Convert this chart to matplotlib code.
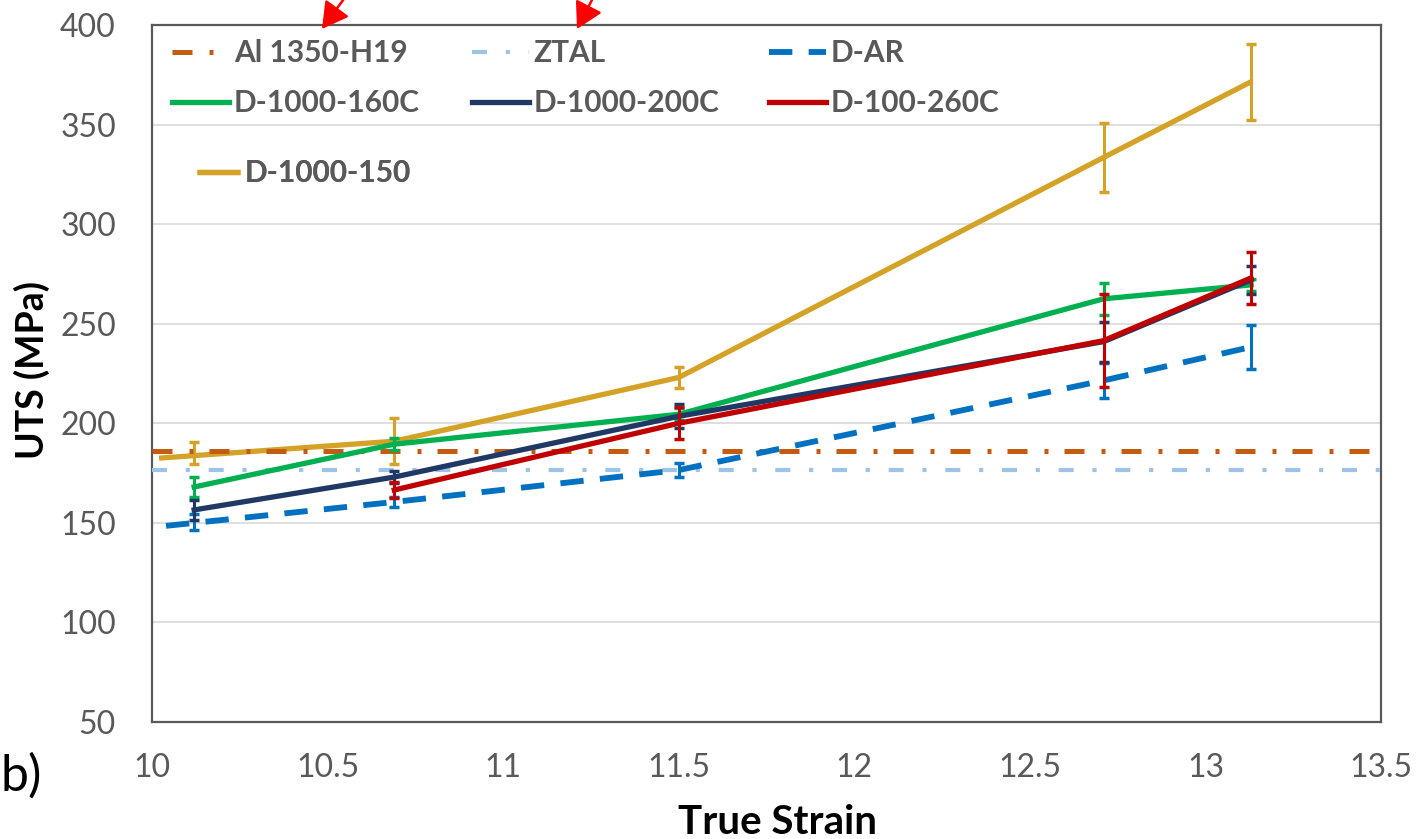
import matplotlib
matplotlib.use("Agg")
import matplotlib.pyplot as plt

# ---------------- data ----------------
strain = [10.12, 10.69, 11.50, 12.71, 13.13]

al1350_uts = 186.0
ztal_uts = 176.5

dar_line_x = [10.04, 10.69, 11.50, 12.71, 13.13]
dar_line_y = [148.5, 160.5, 176.5, 221.5, 238.3]
dar_pts = [150.5, 160.5, 176.5, 221.5, 238.3]
dar_err = [4.0, 2.5, 3.7, 9.0, 11.0]

g160_uts = [168.0, 189.5, 204.5, 262.5, 269.5]
g160_err = [5.0, 3.0, 3.0, 8.0, 3.0]

n200_uts = [156.5, 173.0, 203.5, 241.0, 272.0]
n200_err = [5.0, 3.0, 6.0, 10.0, 7.0]

r260_x = [10.69, 11.50, 12.71, 13.13]
r260_uts = [166.5, 200.0, 241.5, 273.0]
r260_err = [4.0, 8.0, 23.5, 13.0]

gold_line_x = [10.02, 10.69, 11.50, 12.71, 13.13]
gold_line_y = [182.5, 191.0, 223.0, 333.5, 371.5]
gold_pts = [185.0, 191.0, 223.0, 333.5, 371.5]
gold_err = [5.5, 11.5, 5.5, 17.5, 19.0]

labels = ["Al 1350-H19", "ZTAL", "D-AR", "D-1000-160C", "D-1000-200C",
          "D-100-260C", "D-1000-150"]
xticks = [10, 10.5, 11, 11.5, 12, 12.5, 13, 13.5]
xticklabels = ["10", "10.5", "11", "11.5", "12", "12.5", "13", "13.5"]
yticks = [50, 100, 150, 200, 250, 300, 350, 400]

# ---------------- style ----------------
C_AL = "#C55A11"
C_ZT = "#9DC3E6"
C_DAR = "#0070C0"
C_G = "#00B050"
C_N = "#203864"
C_R = "#C00000"
C_GOLD = "#D4A226"
GRAY = "#595959"

plt.rcParams["font.family"] = ["Lato", "DejaVu Sans"]

W, H = 1421, 839
fig = plt.figure(figsize=(W / 100, H / 100), dpi=100)
ax = fig.add_axes([152 / W, 1 - 722 / H, (1381 - 152) / W, (722 - 25) / H])

eb_kw = dict(fmt="none", capsize=3.8, capthick=2.5, elinewidth=2.2)

# gold (lowest)
h_gold, = ax.plot(gold_line_x, gold_line_y, color=C_GOLD, lw=3.8, zorder=2,
                  solid_capstyle="butt")
ax.errorbar(strain, gold_pts, yerr=gold_err, ecolor=C_GOLD, zorder=2, **eb_kw)

# reference lines
h_al = ax.axhline(al1350_uts, color=C_AL, lw=3.6, ls=(0, (4, 3.4, 0.8, 3.2)),
                  zorder=3, dash_capstyle="butt")
h_zt = ax.axhline(ztal_uts, color=C_ZT, lw=3.0, ls=(0, (3.6, 4.5, 1.0, 4.5)),
                  zorder=3, dash_capstyle="butt")

# D-AR
h_dar, = ax.plot(dar_line_x, dar_line_y, color=C_DAR, lw=4.2,
                 ls=(0, (4, 2.8)), zorder=4, dash_capstyle="butt")
ax.errorbar(strain, dar_pts, yerr=dar_err, ecolor=C_DAR, zorder=4, **eb_kw)

# green
h_g, = ax.plot(strain, g160_uts, color=C_G, lw=3.8, zorder=5)
ax.errorbar(strain, g160_uts, yerr=g160_err, ecolor=C_G, zorder=5, **eb_kw)

# navy
h_n, = ax.plot(strain, n200_uts, color=C_N, lw=3.8, zorder=6)
ax.errorbar(strain, n200_uts, yerr=n200_err, ecolor=C_N, zorder=6, **eb_kw)

# red
h_r, = ax.plot(r260_x, r260_uts, color=C_R, lw=3.8, zorder=7)
ax.errorbar(r260_x, r260_uts, yerr=r260_err, ecolor=C_R, zorder=7, **eb_kw)

# axes
ax.set_xlim(10, 13.5)
ax.set_ylim(50, 400)
ax.set_xticks(xticks)
ax.set_xticklabels(xticklabels)
ax.set_yticks(yticks)
ax.tick_params(axis="both", length=0, labelsize=23, labelcolor=GRAY)
ax.tick_params(axis="y", pad=26)
ax.tick_params(axis="x", pad=22)
ax.grid(axis="y", color="#D9D9D9", lw=1.2, zorder=0)
ax.set_axisbelow(True)
for s in ax.spines.values():
    s.set_color(GRAY)
    s.set_linewidth(1.6)

ax.set_ylabel("UTS (MPa)", fontsize=27, fontweight="bold", color="black")
ax.yaxis.set_label_coords(-0.083, 0.505)
ax.set_xlabel("True Strain", fontsize=29, fontweight="bold", color="black",
              va="top")
ax.xaxis.set_label_coords(0.509, -0.117)

# legend, entry by entry
handles = [h_al, h_zt, h_dar, h_g, h_n, h_r, h_gold]
pos = [(172, 53), (472, 53), (769, 53), (172, 103), (472, 103), (769, 103),
       (197, 173)]
hl = [1.92, 1.92, 1.92, 1.92, 1.92, 1.92, 1.44]
for h, lab, (px, py), L in zip(handles, labels, pos, hl):
    leg = ax.legend([h], [lab], loc="center left",
                    bbox_to_anchor=(px / W, 1 - py / H),
                    bbox_transform=fig.transFigure, frameon=False,
                    borderpad=0, borderaxespad=0, handlelength=L,
                    handletextpad=0.15,
                    prop=dict(family=["Lato", "DejaVu Sans"], size=21.5,
                              weight="bold"),
                    labelcolor=GRAY)
    ax.add_artist(leg)

# red arrows
for tip, tail in [((322, H - 29), (346, H + 4)), ((577, H - 29), (594, H + 4))]:
    ax.annotate("", xy=tip, xycoords="figure pixels", xytext=tail,
                textcoords="figure pixels", annotation_clip=False,
                arrowprops=dict(arrowstyle="-|>,head_length=0.8,head_width=0.45",
                                color="red", lw=1.8, mutation_scale=20,
                                shrinkA=0, shrinkB=0))

fig.text(0 / W, 1 - 776 / H, "b)", fontsize=36, color="black", va="center",
         ha="left")

fig.savefig("out.png", dpi=100)
